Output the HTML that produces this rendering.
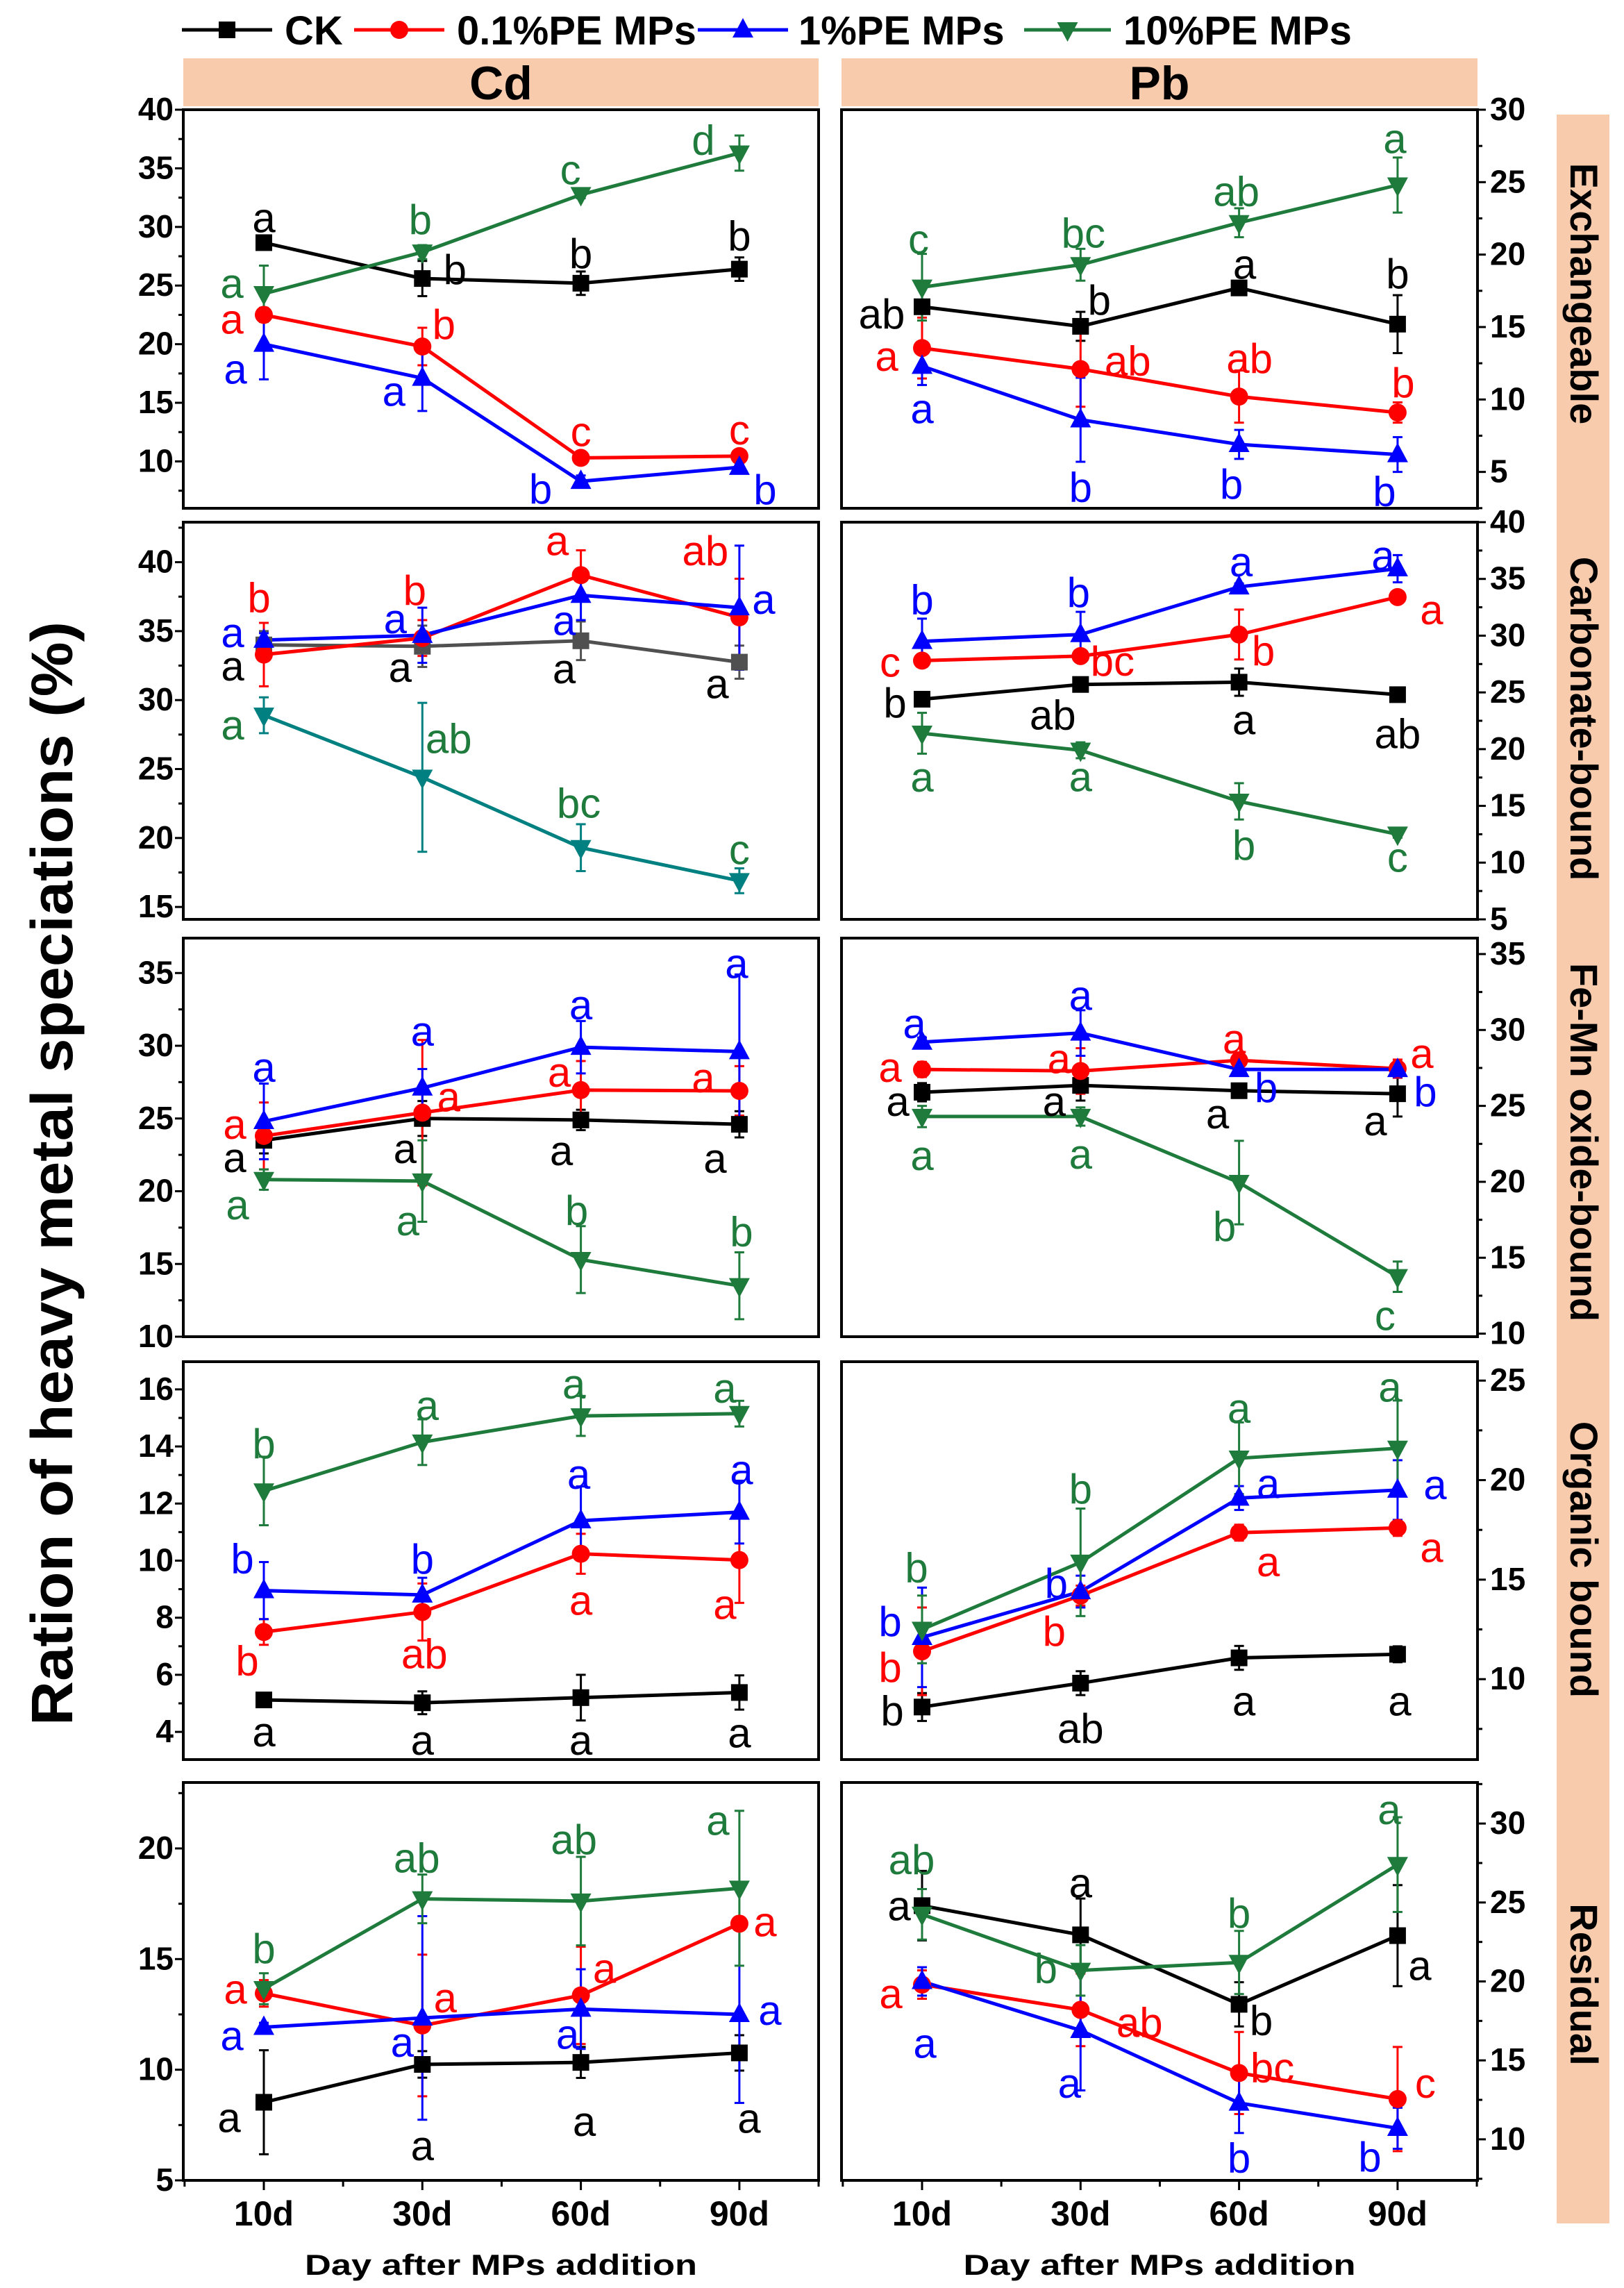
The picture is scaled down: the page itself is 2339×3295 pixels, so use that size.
<!DOCTYPE html>
<html><head><meta charset="utf-8"><style>
html,body{margin:0;padding:0;background:#fff;}
svg{display:block;}
text{font-family:"Liberation Sans",Arial,sans-serif;}
</style></head><body>
<svg id="chart" xmlns="http://www.w3.org/2000/svg" width="2339" height="3295" viewBox="0 0 2339 3295"></svg>
<script>
const categories = ['10d','30d','60d','90d'];
const seriesNames = ['CK','0.1%PE MPs','1%PE MPs','10%PE MPs'];

// Cd exchangeable
const cdExchValues = [[28.66,25.6,25.2,26.4],[22.5,19.8,10.3,10.45],[20.0,17.1,8.3,9.5],[24.3,27.85,32.75,36.3]];
const cdExchErrors = [[0.3,1.5,1.0,1.0],[0.6,1.6,0.2,0.3],[3.0,2.8,0.5,0.3],[2.4,0.6,0.3,1.5]];
const cdExchLetters = [['a','b','b','b'],['a','b','c','c'],['a','a','b','b'],['a','b','c','d']];
// Cd carbonate-bound
const cdCarbValues = [[34.0,33.9,34.3,32.75],[33.3,34.5,39.06,36.0],[34.35,34.7,37.6,36.7],[28.9,24.4,19.3,16.9]];
const cdCarbErrors = [[1.0,1.5,1.4,1.2],[2.3,1.3,1.8,2.8],[0.5,2.0,1.8,4.5],[1.3,5.4,1.7,0.9]];
const cdCarbLetters = [['a','a','a','a'],['b','b','a','ab'],['a','a','a','a'],['a','ab','bc','c']];
// Cd Fe-Mn oxide-bound
const cdFeValues = [[23.5,25.0,24.9,24.6],[23.8,25.4,26.95,26.9],[24.8,27.1,29.9,29.6],[20.8,20.7,15.3,13.5]];
const cdFeErrors = [[0.9,1.2,0.7,0.9],[2.3,5.0,2.0,1.7],[2.6,1.3,1.8,5.3],[0.7,2.8,2.3,2.3]];
const cdFeLetters = [['a','a','a','a'],['a','a','a','a'],['a','a','a','a'],['a','a','b','b']];
// Cd organic bound
const cdOrgValues = [[5.12,5.02,5.2,5.38],[7.5,8.2,10.24,10.02],[8.95,8.8,11.4,11.7],[12.44,14.15,15.07,15.15]];
const cdOrgErrors = [[0.2,0.4,0.8,0.6],[0.45,1.0,0.7,1.5],[1.0,0.6,1.2,1.1],[1.2,0.8,0.7,0.45]];
const cdOrgLetters = [['a','a','a','a'],['b','ab','a','a'],['b','b','a','a'],['b','a','a','a']];
// Cd residual
const cdResValues = [[8.53,10.24,10.33,10.76],[13.45,12.0,13.36,16.6],[11.92,12.34,12.74,12.5],[13.66,17.72,17.62,18.2]];
const cdResErrors = [[2.35,0.6,0.7,0.8],[0.6,3.2,2.2,0.1],[0.2,4.6,1.8,4.0],[0.7,1.1,2.0,3.5]];
const cdResLetters = [['a','a','a','a'],['a','a','a','a'],['a','a','a','a'],['b','ab','ab','a']];
// Pb exchangeable
const pbExchValues = [[16.4,15.05,17.7,15.2],[13.55,12.1,10.2,9.1],[12.3,8.6,6.9,6.2],[17.75,19.3,22.2,24.8]];
const pbExchErrors = [[0.4,1.0,0.2,2.0],[2.1,2.6,1.8,0.7],[1.3,2.9,1.0,1.2],[2.3,1.1,1.0,1.9]];
const pbExchLetters = [['ab','b','a','b'],['a','ab','ab','b'],['a','b','b','b'],['c','bc','ab','a']];
// Pb carbonate-bound
const pbCarbValues = [[24.4,25.7,25.9,24.8],[27.8,28.2,30.1,33.4],[29.5,30.1,34.3,35.9],[21.4,19.9,15.4,12.5]];
const pbCarbErrors = [[0.3,0.3,1.2,0.6],[0.2,0.3,2.2,0.3],[2.0,2.0,0.3,1.2],[1.8,0.7,1.6,0.3]];
const pbCarbLetters = [['b','ab','a','ab'],['c','bc','b','a'],['b','b','a','a'],['a','a','b','c']];
// Pb Fe-Mn oxide-bound
const pbFeValues = [[25.9,26.35,26.0,25.8],[27.4,27.3,28.0,27.45],[29.2,29.8,27.4,27.4],[24.3,24.3,19.95,13.75]];
const pbFeErrors = [[0.6,1.0,0.3,1.5],[0.5,1.5,0.5,0.6],[0.3,1.5,0.3,0.5],[0.7,0.6,2.75,1.0]];
const pbFeLetters = [['a','a','a','a'],['a','a','a','a'],['a','a','b','b'],['a','a','b','c']];
// Pb organic bound
const pbOrgValues = [[8.6,9.8,11.07,11.25],[11.4,14.2,17.36,17.6],[12.1,14.4,19.1,19.5],[12.5,15.87,21.1,21.6]];
const pbOrgErrors = [[0.7,0.6,0.6,0.4],[2.2,0.5,0.4,0.4],[2.5,0.8,0.6,1.5],[1.7,2.7,1.8,2.4]];
const pbOrgLetters = [['b','ab','a','a'],['b','b','a','a'],['b','b','a','a'],['b','b','a','a']];
// Pb residual
const pbResValues = [[24.8,22.95,18.55,22.9],[19.8,18.2,14.2,12.55],[20.0,16.9,12.3,10.7],[24.25,20.7,21.2,27.4]];
const pbResErrors = [[2.2,2.3,1.4,3.2],[0.9,2.3,2.6,3.3],[0.9,3.8,1.9,1.3],[1.6,1.6,2.0,3.0]];
const pbResLetters = [['a','a','b','a'],['a','ab','bc','c'],['a','a','b','b'],['ab','b','b','a']];

// ---- layout (not data) ----
const svg = document.getElementById('chart');
const NS = 'http://www.w3.org/2000/svg';
const GREEN = '#1e7b3c';
function el(tag, attrs, parent){
  const e = document.createElementNS(NS, tag);
  for (const k in attrs) e.setAttribute(k, attrs[k]);
  (parent||svg).appendChild(e);
  return e;
}
const rows = [[158,732],[752,1324],[1351,1925],[1961,2534],[2567,3140]];
const colsX = [[264,1179],[1212,2128]];

const panels = [
 {name:'cd-exchangeable',col:0,row:0,dom:[6,40],ticks:[10,15,20,25,30,35,40],minor:2.5,v:cdExchValues,e:cdExchErrors,l:cdExchLetters,
  off:[[[0,-36],[47,-13],[0,-43],[0,-48]],[[-46,6],[31,-32],[0,-38],[0,-38]],[[-41,36],[-41,19],[-58,11],[37,32]],[[-46,-15],[-3,-47],[-15,-36],[-52,-19]]]},
 {name:'cd-carbonate',col:0,row:1,dom:[14.1,42.9],ticks:[15,20,25,30,35,40],minor:2.5,v:cdCarbValues,e:cdCarbErrors,l:cdCarbLetters,ckColor:'#505050',greenColor:'#008080',
  off:[[[-45,30],[-32,30],[-24,40],[-32,31]],[[-7,-82],[-11,-69],[-34,-50],[-49,-96]],[[-45,-11],[-39,-24],[-24,36],[35,-12]],[[-45,14],[38,-56],[-3,-64],[0,-45]]]},
 {name:'cd-fe-mn',col:0,row:2,dom:[10,37.4],ticks:[10,15,20,25,30,35],minor:2.5,v:cdFeValues,e:cdFeErrors,l:cdFeLetters,
  off:[[[-42,25],[-25,43],[-28,44],[-35,49]],[[-42,-17],[38,-23],[-31,-26],[-52,-19]],[[0,-78],[0,-82],[0,-61],[-4,-127]],[[-38,36],[-21,57],[-6,-71],[3,-78]]]},
 {name:'cd-organic',col:0,row:3,dom:[3.03,16.97],ticks:[4,6,8,10,12,14,16],minor:1,v:cdOrgValues,e:cdOrgErrors,l:cdOrgLetters,
  off:[[[0,46],[0,54],[0,61],[0,58]],[[-24,41],[3,60],[0,67],[-21,64]],[[-31,-46],[0,-52],[-3,-67],[3,-61]],[[0,-68],[7,-53],[-10,-46],[-21,-37]]]},
 {name:'cd-residual',col:0,row:4,dom:[5,22.98],ticks:[5,10,15,20],minor:2.5,v:cdResValues,e:cdResErrors,l:cdResLetters,
  off:[[[-50,22],[0,117],[5,85],[14,94]],[[-41,-6],[33,-40],[34,-39],[37,-3]],[[-46,12],[-29,35],[-19,36],[44,-6]],[[0,-58],[-8,-59],[-10,-89],[-31,-98]]]},
 {name:'pb-exchangeable',col:1,row:0,dom:[2.49,30],ticks:[5,10,15,20,25,30],minor:2.5,v:pbExchValues,e:pbExchErrors,l:pbExchLetters,
  off:[[[-58,10],[27,-38],[8,-34],[0,-73]],[[-51,12],[68,-12],[15,-55],[8,-43]],[[0,61],[0,97],[-11,57],[-19,53]],[[-5,-69],[4,-46],[-4,-45],[-4,-67]]]},
 {name:'pb-carbonate',col:1,row:1,dom:[5,40],ticks:[5,10,15,20,25,30,35,40],minor:2.5,v:pbCarbValues,e:pbCarbErrors,l:pbCarbLetters,
  off:[[[-39,5],[-40,44],[7,54],[0,56]],[[-46,2],[46,7],[35,23],[49,18]],[[0,-60],[-3,-61],[3,-36],[-21,-19]],[[0,63],[0,38],[7,63],[0,33]]]},
 {name:'pb-fe-mn',col:1,row:2,dom:[9.8,36.05],ticks:[10,15,20,25,30,35],minor:2.5,v:pbFeValues,e:pbFeErrors,l:pbFeLetters,
  off:[[[-35,13],[-38,23],[-31,33],[-32,39]],[[-46,-3],[-31,-18],[-7,-31],[35,-22]],[[-11,-27],[0,-54],[39,26],[40,32]],[[0,56],[0,54],[-21,63],[-18,56]]]},
 {name:'pb-organic',col:1,row:3,dom:[5.96,25.95],ticks:[10,15,20,25],minor:2.5,v:pbOrgValues,e:pbOrgErrors,l:pbOrgLetters,
  off:[[[-43,5],[0,65],[7,62],[3,67]],[[-46,23],[-38,51],[42,42],[49,28]],[[-46,-23],[-35,-12],[42,-21],[54,-8]],[[-8,-89],[0,-106],[0,-72],[-11,-88]]]},
 {name:'pb-residual',col:1,row:4,dom:[7.4,32.6],ticks:[10,15,20,25,30],minor:2.5,v:pbResValues,e:pbResErrors,l:pbResLetters,
  off:[[[-33,0],[0,-75],[32,23],[32,43]],[[-45,13],[85,18],[48,-8],[40,-23]],[[4,89],[-16,76],[0,79],[-40,41]],[[-15,-79],[-50,-3],[0,-71],[-12,-79]]]}
];

const baseColors = ['#000000','#ff0000','#0000ff',GREEN];
const letterColors = ['#000000','#ff0000','#0000ff',GREEN];
const seriesKeys = ['ck','pe-0-1','pe-1','pe-10'];

// header boxes
[['Cd',264,1179],['Pb',1212,2128]].forEach(h=>{
  const r = el('rect',{x:h[1],y:84,width:h[2]-h[1],height:69,fill:'#f8cbad'});
  
  
  const t = el('text',{x:(h[1]+h[2])/2,y:143,'text-anchor':'middle','font-size':68,'font-weight':'bold',fill:'#000'});
  t.textContent = h[0];
  
  
});
// right strip
const strip = el('rect',{x:2242,y:165,width:76,height:3037,fill:'#f8cbad'});


[['Exchangeable',423],['Carbonate-bound',1035],['Fe-Mn oxide-bound',1645],['Organic bound',2246],['Residual',2858]].forEach(s=>{
  const t = el('text',{x:0,y:0,'text-anchor':'middle','font-size':56,'font-weight':'bold',fill:'#000',transform:`translate(2262,${s[1]}) rotate(90)`});
  t.textContent = s[0];
  
  
});
// y title
const yt = el('text',{x:0,y:0,'text-anchor':'middle','font-size':84,'font-weight':'bold',fill:'#000',transform:'translate(104,1690) rotate(-90)',textLength:1590,lengthAdjust:'spacingAndGlyphs'});
yt.textContent = 'Ration of heavy metal speciations (%)';



// legend
const legendX = [[262,392,410],[510,640,658],[1005,1135,1150],[1475,1600,1618]];
seriesNames.forEach((n,i)=>{
  const g = el('g',{});
  
  
  el('line',{x1:legendX[i][0],y1:43,x2:legendX[i][1],y2:43,stroke:baseColors[i],'stroke-width':5},g);
  drawMarker(g,i,(legendX[i][0]+legendX[i][1])/2,43,baseColors[i]);
  const t = el('text',{x:legendX[i][2],y:64,'font-size':58,'font-weight':'bold',fill:'#000'},g);
  t.textContent = n;
});

function drawMarker(parent,i,x,y,color){
  let m;
  if(i===0) m = el('rect',{x:x-12,y:y-12,width:24,height:24,fill:color},parent);
  else if(i===1) m = el('circle',{cx:x,cy:y,r:13,fill:color},parent);
  else if(i===2) m = el('polygon',{points:`${x},${y-17} ${x+15},${y+11} ${x-15},${y+11}`,fill:color},parent);
  else m = el('polygon',{points:`${x},${y+17} ${x+15},${y-11} ${x-15},${y-11}`,fill:color},parent);
  return m;
}

panels.forEach(p=>{
  const [L,R] = colsX[p.col];
  const [T,B] = rows[p.row];
  const yS = v => B - (v - p.dom[0])/(p.dom[1]-p.dom[0])*(B-T);
  const xS = i => L + 116 + i*228.3;
  const g = el('g',{});
  
  
  const frame = el('rect',{x:L,y:T,width:R-L,height:B-T,fill:'none',stroke:'#000','stroke-width':4},g);
  
  
  // y ticks
  const axX = p.col===0 ? L : R;
  const dir = p.col===0 ? -1 : 1;
  for(let v=p.ticks[0]-p.minor*4; v<=p.dom[1]+1e-6; v+=p.minor){
    if(v<p.dom[0]-1e-6) continue;
    const major = p.ticks.some(t=>Math.abs(t-v)<1e-6);
    el('line',{x1:axX,y1:yS(v),x2:axX+dir*(major?12:7),y2:yS(v),stroke:'#000','stroke-width':3},g);
  }
  p.ticks.forEach(t=>{
    const tx = el('text',{x:p.col===0?250:2146,y:yS(t)+15,'text-anchor':p.col===0?'end':'start','font-size':46,'font-weight':'bold',fill:'#000'},g);
    tx.textContent = t;
    
    
  });
  if(p.row===4){
    for(let i=-0.5;i<=3.5;i+=0.5){
      const x = Math.min(R,Math.max(L,xS(i)));
      el('line',{x1:x,y1:B,x2:x,y2:B+(Number.isInteger(i)?14:9),stroke:'#000','stroke-width':3},g);
    }
    categories.forEach((c,i)=>{
      const tx = el('text',{x:xS(i),y:3205,'text-anchor':'middle','font-size':50,'font-weight':'bold',fill:'#000'},g);
      tx.textContent = c;
      
      
    });
    const xt = el('text',{x:(L+R)/2,y:3276,'text-anchor':'middle','font-size':42,'font-weight':'bold',fill:'#000',textLength:565,lengthAdjust:'spacingAndGlyphs'},g);
    xt.textContent = 'Day after MPs addition';
    
    
  }
  // series
  p.v.forEach((vals,s)=>{
    let col = baseColors[s];
    if(s===0 && p.ckColor) col = p.ckColor;
    if(s===3 && p.greenColor) col = p.greenColor;
    const sg = el('g',{},g);
    
    
    const pts = vals.map((v,i)=>`${xS(i)},${yS(v)}`).join(' ');
    const line = el('polyline',{points:pts,fill:'none',stroke:col,'stroke-width':5},sg);
    
    
    vals.forEach((v,i)=>{
      const er = p.e[s][i], x = xS(i);
      const eb = el('g',{},sg);
      
      
      el('line',{x1:x,y1:yS(v-er),x2:x,y2:yS(v+er),stroke:col,'stroke-width':3},eb);
      el('line',{x1:x-7,y1:yS(v-er),x2:x+7,y2:yS(v-er),stroke:col,'stroke-width':3},eb);
      el('line',{x1:x-7,y1:yS(v+er),x2:x+7,y2:yS(v+er),stroke:col,'stroke-width':3},eb);
    });
  });
  p.v.forEach((vals,s)=>{
    let col = baseColors[s];
    if(s===0 && p.ckColor) col = p.ckColor;
    if(s===3 && p.greenColor) col = p.greenColor;
    vals.forEach((v,i)=>{
      const m = drawMarker(g,s,xS(i),yS(v),col);
      
      
      const o = p.off[s][i];
      const t = el('text',{x:xS(i)+o[0],y:yS(v)+o[1]+21,'text-anchor':'middle','font-size':60,fill:letterColors[s]},g);
      t.textContent = p.l[s][i];
      
      
    });
  });
});
</script>
</body></html>
